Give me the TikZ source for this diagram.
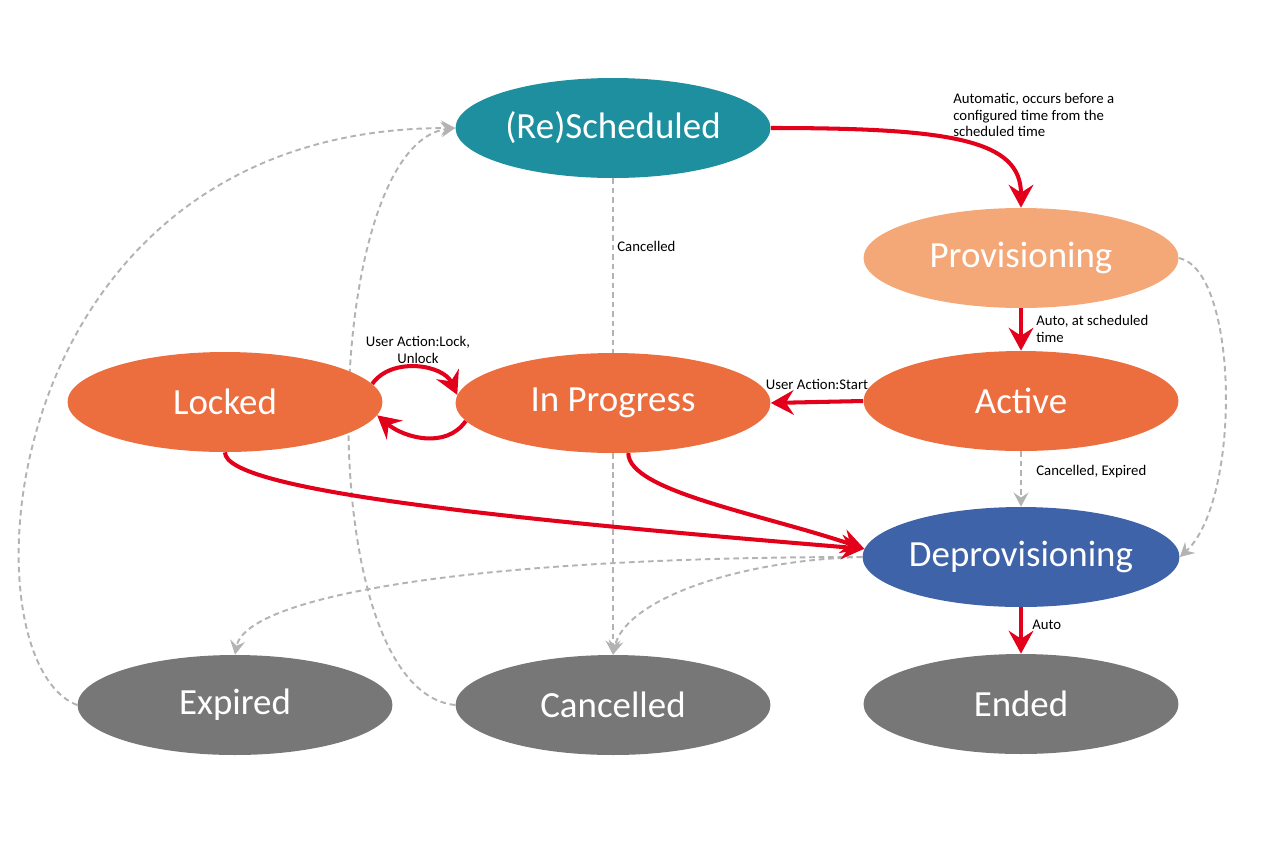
\documentclass[tikz,border=0pt]{standalone}
\usepackage{fontspec}
\setmainfont{Carlito}
\usepackage{tikz}
\usetikzlibrary{shapes.geometric, arrows.meta, backgrounds}

\definecolor{flowred}{HTML}{E3001B}
\definecolor{altgrey}{HTML}{B3B3B3}
\definecolor{schedteal}{HTML}{1D8F9E}
\definecolor{provpeach}{HTML}{F5A877}
\definecolor{activeorange}{HTML}{EC6D3E}
\definecolor{deprovblue}{HTML}{3F63A8}
\definecolor{endgrey}{HTML}{767776}

\newcommand{\statefont}{\fontsize{21}{24}\selectfont}
\newcommand{\lblfont}{\fontsize{8.4}{9.4}\selectfont}

\begin{document}
\begin{tikzpicture}[
    x=0.02cm, y=0.02cm,
    state/.style={ellipse, minimum width=6.3cm, minimum height=2cm, inner sep=0pt, text=white, font=\statefont},
    lbl/.style={font=\lblfont, inner sep=0pt, align=left},
    flow/.style={draw=flowred, line width=2.3pt, -{Stealth[length=13pt, width=14pt, inset=4.5pt]}},
    alt/.style={draw=altgrey, line width=1.1pt, dash pattern=on 3.2pt off 2.2pt, -{Stealth[length=8pt, width=8.5pt, inset=2.8pt]}}
]
\useasboundingbox (0,0) rectangle (1267,-842);

% States
\node[state, fill=schedteal] (sched) at (613,-128) {(Re)Scheduled};
\node[state, fill=provpeach] (prov) at (1021,-258) {Provisioning};
\node[state, fill=activeorange] (act) at (1021,-401) {Active};
\node[state, fill=activeorange] (inprog) at (613,-403) {In Progress};
\node[state, fill=activeorange] (lock) at (225,-402) {Locked};
\node[state, fill=deprovblue] (deprov) at (1021,-557) {Deprovisioning};
\node[state, fill=endgrey] (exp) at (235,-705) {Expired};
\node[state, fill=endgrey] (canc) at (613,-705) {Cancelled};
\node[state, fill=endgrey] (ended) at (1021,-704) {Ended};

% Normal flow
\draw[flow] (sched.east) .. controls +(180,0) and +(0,68) .. (prov.north);
\draw[flow] (prov.south) -- (act.north);
\draw[flow] (act.west) -- (inprog.east);
\draw[flow] (lock.7) to[out=55, in=115] (inprog.177);
\draw[flow] (inprog.187) to[out=-125, in=-40] (lock.-5);
\draw[flow] (lock.south) .. controls +(0,-38) and +(-363,30) .. (deprov.177);
\draw[flow] (inprog.-73) .. controls +(0,-38) and +(-103,35) .. (deprov.177);
\draw[flow] (deprov.south) -- (ended.north);

% Alternative transitions, behind the states
\begin{pgfonlayer}{background}
\draw[alt] (sched.south) -- (canc.north);
\draw[alt] (act.south) -- (deprov.north);
\draw[alt] (prov.east) .. controls +(60,-12) and +(62,57) .. (deprov.east);
\draw[alt] (deprov.west) .. controls +(-414,0) and +(10,55) .. (exp.north);
\draw[alt] (deprov.west) .. controls +(-124,-3) and +(12,55) .. (canc.north);
\draw[alt] (exp.west) .. controls +(-118,45) and +(-465,0) .. (sched.west);
\draw[alt] (canc.west) .. controls +(-147,15) and +(-135,-17) .. (sched.west);
\end{pgfonlayer}

% Labels
\node[lbl, anchor=west] (lblsched) at (953,-115) {Automatic, occurs before a\\configured time from the\\scheduled time};
\node[lbl, anchor=west] (lblprov) at (1036,-329) {Auto, at scheduled\\time};
\node[lbl] (lblstart) at (817,-384) {User Action:Start};
\node[lbl, align=center] (lbllock) at (418,-350) {User Action:Lock,\\Unlock};
\node[lbl, anchor=west] (lblcanc) at (617,-246) {Cancelled};
\node[lbl, anchor=west] (lblact) at (1036,-472) {Cancelled, Expired};
\node[lbl, anchor=west] (lblend) at (1032,-625) {Auto};
\end{tikzpicture}
\end{document}
